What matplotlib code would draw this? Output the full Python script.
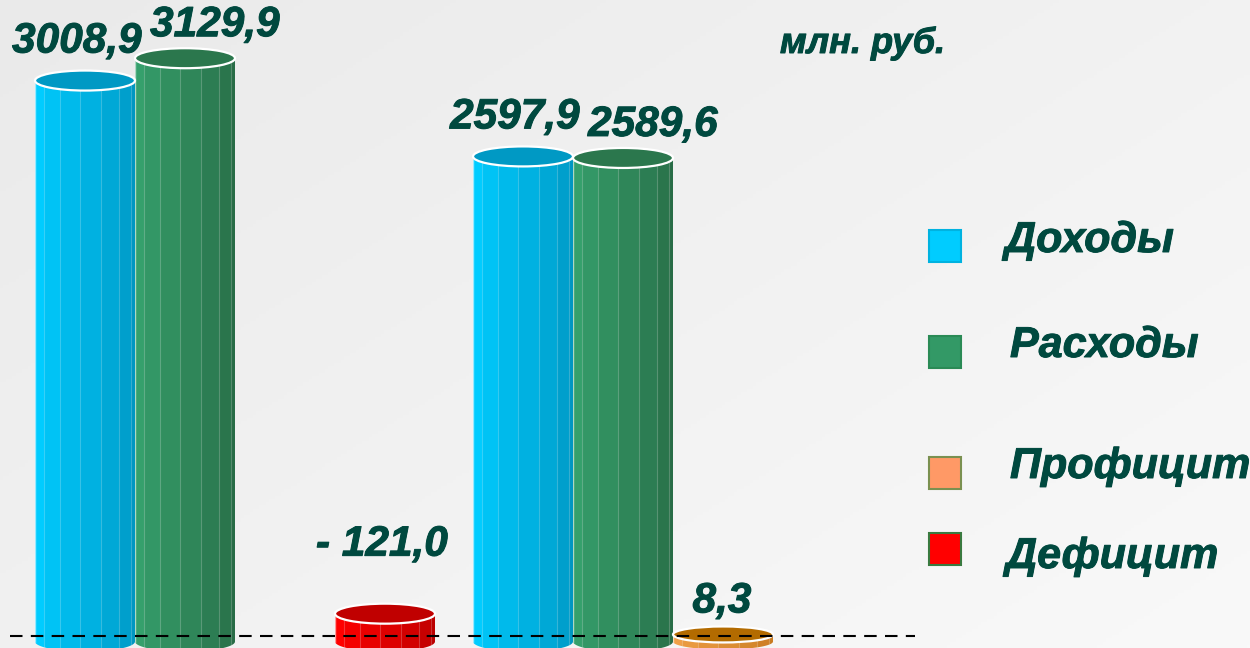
import numpy as np
import matplotlib
matplotlib.use('Agg')
import matplotlib.pyplot as plt
from matplotlib.patches import Rectangle, Ellipse, PathPatch
from matplotlib.path import Path
from matplotlib.colors import to_rgb
import matplotlib.patheffects as pe

# ---------------- data ----------------
periods = ['Период 1', 'Период 2']
series = ['Доходы', 'Расходы', 'Профицит', 'Дефицит']
dohody = [3008.9, 2597.9]
rashody = [3129.9, 2589.6]
proficit = [0.0, 8.3]
deficit = [121.0, 0.0]
labels_dohody = ['3008,9', '2597,9']
labels_rashody = ['3129,9', '2589,6']
labels_proficit = ['', '8,3']
labels_deficit = ['- 121,0', '']
unit_label = 'млн. руб.'

# ---------------- style ----------------
TEXT_C = '#00493f'
FONT = 'Liberation Sans'
front_light = ['#00ccff', '#35a06c', '#f0a048', '#ff0000']
front_dark = ['#0096c2', '#286c46', '#c87a20', '#bb0000']
top_col = ['#0099c4', '#2b774d', '#b36b00', '#c00000']
legend_fc = ['#00ccff', '#339966', '#ff9966', '#ff0000']
legend_ec = ['#00b2e0', '#2a8a55', '#7a9050', '#3a7a40']
eh_scale = [1.0, 1.0, 0.8, 1.0]
lab_dx = [-8, 30, -1, -3]     # pixels
lab_dy = [28, 22, 22, 58]     # pixels (baseline above value)
bold_fx = [pe.withStroke(linewidth=0.7, foreground=TEXT_C)]

W, H = 1250, 648
fig = plt.figure(figsize=(W / 100, H / 100), dpi=100)

# background gradient
bg = fig.add_axes([0, 0, 1, 1], zorder=-5)
yy, xx = np.mgrid[0:1:200j, 0:1:400j]
g = 0.55 * xx + 0.45 * yy
c0 = np.array(to_rgb('#eaeaea'))
c1 = np.array(to_rgb('#f9f9f9'))
img = c0[None, None, :] * (1 - g[..., None]) + c1[None, None, :] * g[..., None]
bg.imshow(img, extent=[0, 1, 0, 1], aspect='auto', origin='upper')
bg.axis('off')

ax = fig.add_axes([0, 0, 1, 1], zorder=1)
ax.set_facecolor('none')
ax.axis('off')

group_px = 438.0
first_center_px = 235.0
bw = 100.0 / group_px
scale = 0.1846  # px per unit
zero_px = 636.0
ax.set_xlim(-first_center_px / group_px, (W - first_center_px) / group_px)
ax.set_ylim(-(H - zero_px) / scale, zero_px / scale)

BASE = -30.0
EH = 20.0 / scale

all_vals = [dohody, rashody, proficit, deficit]
all_labs = [labels_dohody, labels_rashody, labels_proficit, labels_deficit]
xg = np.arange(len(periods))


def body_path(x0, wd, y0, top, eh):
    t = np.linspace(np.pi, 2 * np.pi, 60)
    xc = x0 + wd / 2
    arc = np.column_stack([xc + wd / 2 * np.cos(t), y0 + eh / 2 * np.sin(t)])
    verts = [(x0, top)] + [tuple(p) for p in arc] + [(x0 + wd, top), (x0, top)]
    codes = [Path.MOVETO] + [Path.LINETO] * (len(verts) - 2) + [Path.CLOSEPOLY]
    return Path(verts, codes)


nfac = 7
tt = np.linspace(0.08 * np.pi, np.pi, nfac + 1)
frac = (1 - np.cos(tt))
frac = (frac - frac[0]) / (frac[-1] - frac[0])

for si in range(len(series)):
    vals = np.array(all_vals[si])
    xs = xg + (si - 1.5) * bw
    bars = ax.bar(xs, vals - BASE, bottom=BASE, width=bw, color='none', edgecolor='none')
    eh = EH * eh_scale[si]
    cl = np.array(to_rgb(front_light[si]))
    cd = np.array(to_rgb(front_dark[si]))
    for gi, rect in enumerate(bars.patches):
        if vals[gi] == 0:
            continue
        x0, wd = rect.get_x(), rect.get_width()
        y0 = rect.get_y()
        top = y0 + rect.get_height()
        xc = x0 + wd / 2
        clip = PathPatch(body_path(x0, wd, y0, top, eh), fc='none', ec='none', zorder=2)
        ax.add_patch(clip)
        for k in range(nfac):
            f = k / (nfac - 1)
            col = cl * (1 - f) + cd * f
            r = Rectangle((x0 + frac[k] * wd, y0 - eh), (frac[k + 1] - frac[k]) * wd,
                          top - y0 + eh, fc=col, ec='none', zorder=2)
            r.set_clip_path(clip)
            ax.add_patch(r)
            if 0 < k:
                ln, = ax.plot([x0 + frac[k] * wd] * 2, [y0 - eh, top], color='white',
                              alpha=0.22, lw=0.8, zorder=2.1)
                ln.set_clip_path(clip)
        edge, = ax.plot([x0, x0], [y0, top], color='white', alpha=0.6, lw=1.0, zorder=2.2)
        edge.set_clip_path(clip)
        ax.add_patch(Ellipse((xc, top), wd, eh, fc=top_col[si], ec='white', lw=1.6, zorder=3))
        ax.annotate(all_labs[si][gi], xy=(xc, vals[gi]), xytext=(lab_dx[si], lab_dy[si]),
                    textcoords='offset pixels', ha='center', va='baseline',
                    fontsize=30.5, fontweight='bold', fontstyle='italic',
                    family=FONT, color=TEXT_C, zorder=6, path_effects=bold_fx)

ax.axhline(0, xmin=10 / W, xmax=915 / W, color='black', lw=1.5,
           dashes=(6, 4), zorder=5)

# overlay in pixel coordinates for legend and unit text
ov = fig.add_axes([0, 0, 1, 1], zorder=2)
ov.set_facecolor('none')
ov.set_xlim(0, W)
ov.set_ylim(H, 0)
ov.axis('off')

ov.text(780, 53, unit_label, fontsize=26, fontweight='bold', fontstyle='italic',
        family=FONT, color=TEXT_C, ha='left', va='baseline', path_effects=bold_fx)

sq_y = [246, 352, 473, 549]
tx_base = [252, 357, 478, 568]
tx_x = [1005, 1010, 1010, 1006]
for i, name in enumerate(series):
    ov.add_patch(Rectangle((929, sq_y[i] - 16), 32, 32, fc=legend_fc[i],
                           ec=legend_ec[i], lw=1.5))
    ov.text(tx_x[i], tx_base[i], name, fontsize=31, fontweight='bold', fontstyle='italic',
            family=FONT, color=TEXT_C, ha='left', va='baseline', path_effects=bold_fx)

fig.savefig('out.png', dpi=100)
